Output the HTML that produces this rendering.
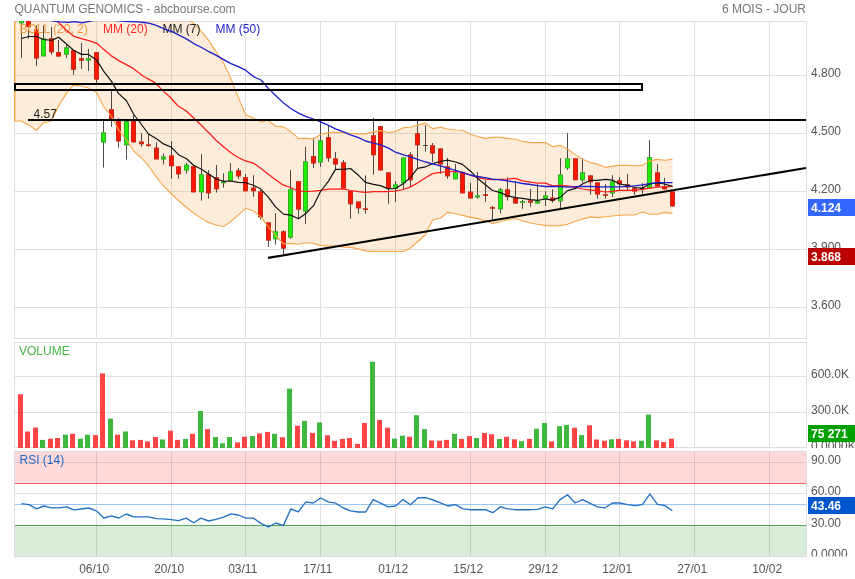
<!DOCTYPE html>
<html><head><meta charset="utf-8"><title>QUANTUM GENOMICS</title>
<style>html,body{margin:0;padding:0;background:#fff;}body{width:855px;height:579px;overflow:hidden;font-family:"Liberation Sans",sans-serif;}svg{display:block;will-change:transform;transform:translateZ(0);}text{font-family:"Liberation Sans",sans-serif;font-size:12px;}</style>
</head><body>
<svg width="855" height="579" viewBox="0 0 855 579">
<defs>
<clipPath id="cm"><rect x="14" y="21" width="793" height="318"/></clipPath>
<clipPath id="cv"><rect x="14" y="342" width="841" height="106"/></clipPath>
<clipPath id="cr"><rect x="14" y="451" width="841" height="105.5"/></clipPath>
</defs>
<rect x="0" y="0" width="855" height="579" fill="#ffffff"/>
<text x="14.5" y="13" fill="#777777" textLength="221" lengthAdjust="spacingAndGlyphs">QUANTUM GENOMICS - abcbourse.com</text>
<text x="806" y="13" fill="#777777" text-anchor="end">6 MOIS - JOUR</text>
<g shape-rendering="crispEdges" stroke="#e0e0e0" stroke-width="1" fill="none">
<line x1="96.5" y1="21" x2="96.5" y2="338"/>
<line x1="96.5" y1="342" x2="96.5" y2="448"/>
<line x1="96.5" y1="451" x2="96.5" y2="556"/>
<line x1="171.5" y1="21" x2="171.5" y2="338"/>
<line x1="171.5" y1="342" x2="171.5" y2="448"/>
<line x1="171.5" y1="451" x2="171.5" y2="556"/>
<line x1="245.5" y1="21" x2="245.5" y2="338"/>
<line x1="245.5" y1="342" x2="245.5" y2="448"/>
<line x1="245.5" y1="451" x2="245.5" y2="556"/>
<line x1="320.5" y1="21" x2="320.5" y2="338"/>
<line x1="320.5" y1="342" x2="320.5" y2="448"/>
<line x1="320.5" y1="451" x2="320.5" y2="556"/>
<line x1="395.5" y1="21" x2="395.5" y2="338"/>
<line x1="395.5" y1="342" x2="395.5" y2="448"/>
<line x1="395.5" y1="451" x2="395.5" y2="556"/>
<line x1="470.5" y1="21" x2="470.5" y2="338"/>
<line x1="470.5" y1="342" x2="470.5" y2="448"/>
<line x1="470.5" y1="451" x2="470.5" y2="556"/>
<line x1="545.5" y1="21" x2="545.5" y2="338"/>
<line x1="545.5" y1="342" x2="545.5" y2="448"/>
<line x1="545.5" y1="451" x2="545.5" y2="556"/>
<line x1="619.5" y1="21" x2="619.5" y2="338"/>
<line x1="619.5" y1="342" x2="619.5" y2="448"/>
<line x1="619.5" y1="451" x2="619.5" y2="556"/>
<line x1="694.5" y1="21" x2="694.5" y2="338"/>
<line x1="694.5" y1="342" x2="694.5" y2="448"/>
<line x1="694.5" y1="451" x2="694.5" y2="556"/>
<line x1="769.5" y1="21" x2="769.5" y2="338"/>
<line x1="769.5" y1="342" x2="769.5" y2="448"/>
<line x1="769.5" y1="451" x2="769.5" y2="556"/>
<line x1="14" y1="75.5" x2="806" y2="75.5"/>
<line x1="14" y1="133.5" x2="806" y2="133.5"/>
<line x1="14" y1="191.5" x2="806" y2="191.5"/>
<line x1="14" y1="249.5" x2="806" y2="249.5"/>
<line x1="14" y1="307.5" x2="806" y2="307.5"/>
<line x1="14" y1="376.5" x2="806" y2="376.5"/>
<line x1="14" y1="412.5" x2="806" y2="412.5"/>
<line x1="14" y1="462.5" x2="806" y2="462.5"/>
<line x1="14" y1="493.5" x2="806" y2="493.5"/>
</g>
<g shape-rendering="crispEdges" stroke="#dddddd" stroke-width="1" fill="none">
<rect x="14.5" y="21.5" width="792" height="317"/>
<rect x="14.5" y="342.5" width="792" height="105"/>
<rect x="14.5" y="451.5" width="792" height="105"/>
</g>
<g clip-path="url(#cm)">
<polygon points="14.5,10.0 185.0,10.0 191.1,21.2 196.3,25.4 201.6,31.7 208.9,40.6 215.3,50.6 222.6,61.2 226.8,69.6 230.5,78.0 232.4,82.4 235.5,90.8 240.8,103.4 245.5,114.5 253.3,118.0 261.1,122.0 267.8,120.2 275.6,126.2 283.3,126.9 290.5,131.3 298.5,138.4 305.5,138.4 313.5,139.0 320.5,134.5 328.5,132.6 335.5,132.3 343.5,132.6 350.5,133.2 358.5,133.9 365.5,133.9 373.5,131.9 380.5,130.6 388.5,132.5 395.5,131.6 403.5,127.7 410.5,127.3 417.5,125.1 425.5,123.1 432.5,128.6 440.5,127.3 447.5,129.0 455.5,130.0 462.5,130.3 470.0,134.1 477.5,136.5 485.0,138.4 492.5,137.4 500.5,137.4 507.5,138.4 515.5,139.3 522.5,141.3 530.5,142.6 537.5,142.6 545.5,142.6 552.5,146.5 560.5,145.4 567.5,149.0 575.5,154.9 582.5,159.2 590.5,162.6 597.5,164.1 605.5,167.4 612.5,166.1 619.5,165.4 627.5,165.4 634.5,165.7 642.5,165.4 649.5,160.9 657.5,159.4 664.5,160.3 672.5,159.2 672.5,213.4 664.5,212.4 657.5,214.3 649.5,214.3 642.5,212.1 634.5,215.0 627.5,215.0 619.5,215.2 612.5,216.0 605.5,216.7 597.5,217.6 590.5,216.9 582.5,219.1 575.5,221.3 567.5,224.3 560.5,225.6 552.5,225.9 545.5,225.6 537.5,224.3 530.5,223.0 522.5,221.0 515.5,218.5 507.5,219.8 500.5,221.7 492.5,223.4 485.4,220.8 477.6,218.4 470.5,217.4 462.7,215.4 455.6,213.7 447.6,212.4 440.7,218.0 432.7,220.0 429.2,226.6 425.7,234.5 417.8,241.5 410.0,248.5 403.8,251.5 389.7,251.5 374.0,251.5 367.0,251.1 360.0,249.4 352.0,247.6 344.1,247.1 336.2,246.2 328.3,245.9 320.4,245.4 312.5,243.2 305.5,242.7 298.5,244.3 290.5,243.5 283.5,243.9 275.5,235.5 268.5,227.1 260.5,216.7 253.5,210.9 245.5,208.3 238.5,214.8 230.5,221.9 223.5,226.5 216.5,225.2 208.5,222.6 200.0,217.4 193.5,213.0 186.5,207.5 178.5,200.5 171.5,194.0 163.5,186.0 156.5,177.4 148.5,165.7 141.5,158.0 133.5,150.8 126.5,139.8 118.5,129.8 111.5,116.5 103.5,106.5 96.5,92.5 88.5,88.0 81.5,86.0 73.5,85.1 66.5,93.1 58.5,106.1 51.5,121.0 43.5,122.7 36.5,130.4 28.5,124.9 21.5,121.0 14.5,121.0" fill="rgba(245,160,60,0.195)" stroke="none"/>
<g>
<rect x="21" y="15.0" width="1" height="42.9" fill="rgba(30,30,30,0.8)"/>
<rect x="19" y="15.0" width="5" height="8.3" fill="#36ac22"/>
<rect x="20" y="16.0" width="3" height="6.3" fill="#1eee08"/>
<rect x="28" y="15.0" width="1" height="23.8" fill="rgba(30,30,30,0.8)"/>
<rect x="26" y="15.0" width="5" height="12.2" fill="#c62a16"/>
<rect x="27" y="16.0" width="3" height="10.2" fill="#ff1600"/>
<rect x="36" y="25.3" width="1" height="40.7" fill="rgba(30,30,30,0.8)"/>
<rect x="34" y="29.4" width="5" height="29.2" fill="#c62a16"/>
<rect x="35" y="30.4" width="3" height="27.2" fill="#ff1600"/>
<rect x="43" y="25.3" width="1" height="31.1" fill="rgba(30,30,30,0.8)"/>
<rect x="41" y="38.2" width="5" height="18.2" fill="#36ac22"/>
<rect x="42" y="39.2" width="3" height="16.2" fill="#1eee08"/>
<rect x="51" y="26.8" width="1" height="27.9" fill="rgba(30,30,30,0.8)"/>
<rect x="49" y="38.2" width="5" height="14.2" fill="#c62a16"/>
<rect x="50" y="39.2" width="3" height="12.2" fill="#ff1600"/>
<rect x="58" y="40.0" width="1" height="16.6" fill="rgba(30,30,30,0.8)"/>
<rect x="56" y="52.1" width="5" height="4.5" fill="#c62a16"/>
<rect x="57" y="53.1" width="3" height="2.5" fill="#ff1600"/>
<rect x="66" y="44.0" width="1" height="13.7" fill="rgba(30,30,30,0.8)"/>
<rect x="64" y="47.3" width="5" height="7.4" fill="#36ac22"/>
<rect x="65" y="48.3" width="3" height="5.4" fill="#1eee08"/>
<rect x="73" y="50.2" width="1" height="24.6" fill="rgba(30,30,30,0.8)"/>
<rect x="71" y="50.2" width="5" height="19.6" fill="#c62a16"/>
<rect x="72" y="51.2" width="3" height="17.6" fill="#ff1600"/>
<rect x="81" y="43.0" width="1" height="25.9" fill="rgba(30,30,30,0.8)"/>
<rect x="79" y="58.2" width="5" height="2.6" fill="#c62a16"/>
<rect x="80" y="59.2" width="3" height="0.6" fill="#ff1600"/>
<rect x="88" y="48.9" width="1" height="22.0" fill="rgba(30,30,30,0.8)"/>
<rect x="86" y="58.2" width="5" height="2.6" fill="#36ac22"/>
<rect x="87" y="59.2" width="3" height="0.6" fill="#1eee08"/>
<rect x="96" y="52.1" width="1" height="31.1" fill="rgba(30,30,30,0.8)"/>
<rect x="94" y="52.1" width="5" height="27.6" fill="#c62a16"/>
<rect x="95" y="53.1" width="3" height="25.6" fill="#ff1600"/>
<rect x="103" y="120.4" width="1" height="47.2" fill="rgba(30,30,30,0.8)"/>
<rect x="101" y="132.3" width="5" height="10.3" fill="#36ac22"/>
<rect x="102" y="133.3" width="3" height="8.3" fill="#1eee08"/>
<rect x="111" y="90.4" width="1" height="36.4" fill="rgba(30,30,30,0.8)"/>
<rect x="109" y="109.2" width="5" height="9.8" fill="#c62a16"/>
<rect x="110" y="110.2" width="3" height="7.8" fill="#ff1600"/>
<rect x="118" y="118.0" width="1" height="29.6" fill="rgba(30,30,30,0.8)"/>
<rect x="116" y="120.0" width="5" height="21.5" fill="#c62a16"/>
<rect x="117" y="121.0" width="3" height="19.5" fill="#ff1600"/>
<rect x="126" y="121.0" width="1" height="38.6" fill="rgba(30,30,30,0.8)"/>
<rect x="124" y="121.0" width="5" height="24.4" fill="#36ac22"/>
<rect x="125" y="122.0" width="3" height="22.4" fill="#1eee08"/>
<rect x="133" y="115.2" width="1" height="27.2" fill="rgba(30,30,30,0.8)"/>
<rect x="131" y="121.0" width="5" height="21.4" fill="#c62a16"/>
<rect x="132" y="122.0" width="3" height="19.4" fill="#ff1600"/>
<rect x="141" y="133.3" width="1" height="13.4" fill="rgba(30,30,30,0.8)"/>
<rect x="139" y="141.5" width="5" height="2.8" fill="#c62a16"/>
<rect x="140" y="142.5" width="3" height="0.8" fill="#ff1600"/>
<rect x="148" y="134.6" width="1" height="12.1" fill="rgba(30,30,30,0.8)"/>
<rect x="146" y="144.3" width="5" height="1.7" fill="#c62a16"/>
<rect x="156" y="142.1" width="1" height="17.4" fill="rgba(30,30,30,0.8)"/>
<rect x="154" y="147.6" width="5" height="11.9" fill="#c62a16"/>
<rect x="155" y="148.6" width="3" height="9.9" fill="#ff1600"/>
<rect x="163" y="153.4" width="1" height="11.0" fill="rgba(30,30,30,0.8)"/>
<rect x="161" y="156.4" width="5" height="3.1" fill="#36ac22"/>
<rect x="162" y="157.4" width="3" height="1.1" fill="#1eee08"/>
<rect x="171" y="141.1" width="1" height="37.6" fill="rgba(30,30,30,0.8)"/>
<rect x="169" y="155.3" width="5" height="11.0" fill="#c62a16"/>
<rect x="170" y="156.3" width="3" height="9.0" fill="#ff1600"/>
<rect x="178" y="166.3" width="1" height="12.4" fill="rgba(30,30,30,0.8)"/>
<rect x="176" y="166.3" width="5" height="8.1" fill="#c62a16"/>
<rect x="177" y="167.3" width="3" height="6.1" fill="#ff1600"/>
<rect x="186" y="162.8" width="1" height="10.8" fill="rgba(30,30,30,0.8)"/>
<rect x="184" y="164.5" width="5" height="6.1" fill="#36ac22"/>
<rect x="185" y="165.5" width="3" height="4.1" fill="#1eee08"/>
<rect x="193" y="166.1" width="1" height="26.3" fill="rgba(30,30,30,0.8)"/>
<rect x="191" y="166.1" width="5" height="26.3" fill="#c62a16"/>
<rect x="192" y="167.1" width="3" height="24.3" fill="#ff1600"/>
<rect x="201" y="154.2" width="1" height="46.5" fill="rgba(30,30,30,0.8)"/>
<rect x="199" y="174.2" width="5" height="18.2" fill="#36ac22"/>
<rect x="200" y="175.2" width="3" height="16.2" fill="#1eee08"/>
<rect x="208" y="170.0" width="1" height="28.7" fill="rgba(30,30,30,0.8)"/>
<rect x="206" y="174.2" width="5" height="19.3" fill="#c62a16"/>
<rect x="207" y="175.2" width="3" height="17.3" fill="#ff1600"/>
<rect x="216" y="165.0" width="1" height="27.6" fill="rgba(30,30,30,0.8)"/>
<rect x="214" y="177.1" width="5" height="12.3" fill="#c62a16"/>
<rect x="215" y="178.1" width="3" height="10.3" fill="#ff1600"/>
<rect x="223" y="173.2" width="1" height="14.5" fill="rgba(30,30,30,0.8)"/>
<rect x="221" y="181.6" width="5" height="1.7" fill="#36ac22"/>
<rect x="230" y="163.1" width="1" height="17.9" fill="rgba(30,30,30,0.8)"/>
<rect x="228" y="171.3" width="5" height="9.7" fill="#36ac22"/>
<rect x="229" y="172.3" width="3" height="7.7" fill="#1eee08"/>
<rect x="238" y="168.0" width="1" height="10.7" fill="rgba(30,30,30,0.8)"/>
<rect x="236" y="170.2" width="5" height="6.3" fill="#c62a16"/>
<rect x="237" y="171.2" width="3" height="4.3" fill="#ff1600"/>
<rect x="245" y="173.9" width="1" height="17.4" fill="rgba(30,30,30,0.8)"/>
<rect x="243" y="177.1" width="5" height="14.2" fill="#c62a16"/>
<rect x="244" y="178.1" width="3" height="12.2" fill="#ff1600"/>
<rect x="253" y="175.2" width="1" height="21.6" fill="rgba(30,30,30,0.8)"/>
<rect x="251" y="187.5" width="5" height="3.8" fill="#c62a16"/>
<rect x="252" y="188.5" width="3" height="1.8" fill="#ff1600"/>
<rect x="260" y="190.0" width="1" height="29.7" fill="rgba(30,30,30,0.8)"/>
<rect x="258" y="191.3" width="5" height="26.1" fill="#c62a16"/>
<rect x="259" y="192.3" width="3" height="24.1" fill="#ff1600"/>
<rect x="268" y="222.3" width="1" height="24.5" fill="rgba(30,30,30,0.8)"/>
<rect x="266" y="222.3" width="5" height="18.4" fill="#c62a16"/>
<rect x="267" y="223.3" width="3" height="16.4" fill="#ff1600"/>
<rect x="275" y="213.1" width="1" height="31.5" fill="rgba(30,30,30,0.8)"/>
<rect x="273" y="231.2" width="5" height="8.2" fill="#36ac22"/>
<rect x="274" y="232.2" width="3" height="6.2" fill="#1eee08"/>
<rect x="283" y="230.3" width="1" height="24.0" fill="rgba(30,30,30,0.8)"/>
<rect x="281" y="231.2" width="5" height="17.5" fill="#c62a16"/>
<rect x="282" y="232.2" width="3" height="15.5" fill="#ff1600"/>
<rect x="290" y="170.1" width="1" height="68.7" fill="rgba(30,30,30,0.8)"/>
<rect x="288" y="189.2" width="5" height="48.5" fill="#36ac22"/>
<rect x="289" y="190.2" width="3" height="46.5" fill="#1eee08"/>
<rect x="298" y="181.1" width="1" height="38.2" fill="rgba(30,30,30,0.8)"/>
<rect x="296" y="181.1" width="5" height="28.5" fill="#c62a16"/>
<rect x="297" y="182.1" width="3" height="26.5" fill="#ff1600"/>
<rect x="305" y="146.8" width="1" height="77.0" fill="rgba(30,30,30,0.8)"/>
<rect x="303" y="161.3" width="5" height="50.2" fill="#36ac22"/>
<rect x="304" y="162.3" width="3" height="48.2" fill="#1eee08"/>
<rect x="313" y="137.7" width="1" height="30.2" fill="rgba(30,30,30,0.8)"/>
<rect x="311" y="156.1" width="5" height="7.5" fill="#c62a16"/>
<rect x="312" y="157.1" width="3" height="5.5" fill="#ff1600"/>
<rect x="320" y="121.0" width="1" height="45.8" fill="rgba(30,30,30,0.8)"/>
<rect x="318" y="140.3" width="5" height="22.3" fill="#36ac22"/>
<rect x="319" y="141.3" width="3" height="20.3" fill="#1eee08"/>
<rect x="328" y="126.1" width="1" height="35.6" fill="rgba(30,30,30,0.8)"/>
<rect x="326" y="137.1" width="5" height="21.3" fill="#c62a16"/>
<rect x="327" y="138.1" width="3" height="19.3" fill="#ff1600"/>
<rect x="335" y="152.0" width="1" height="17.4" fill="rgba(30,30,30,0.8)"/>
<rect x="333" y="158.3" width="5" height="6.3" fill="#c62a16"/>
<rect x="334" y="159.3" width="3" height="4.3" fill="#ff1600"/>
<rect x="343" y="160.0" width="1" height="28.6" fill="rgba(30,30,30,0.8)"/>
<rect x="341" y="162.2" width="5" height="26.4" fill="#c62a16"/>
<rect x="342" y="163.2" width="3" height="24.4" fill="#ff1600"/>
<rect x="350" y="190.8" width="1" height="27.9" fill="rgba(30,30,30,0.8)"/>
<rect x="348" y="190.8" width="5" height="13.6" fill="#c62a16"/>
<rect x="349" y="191.8" width="3" height="11.6" fill="#ff1600"/>
<rect x="358" y="201.4" width="1" height="12.3" fill="rgba(30,30,30,0.8)"/>
<rect x="356" y="201.4" width="5" height="7.1" fill="#c62a16"/>
<rect x="357" y="202.4" width="3" height="5.1" fill="#ff1600"/>
<rect x="365" y="175.3" width="1" height="38.4" fill="rgba(30,30,30,0.8)"/>
<rect x="363" y="208.3" width="5" height="1.7" fill="#c62a16"/>
<rect x="373" y="118.0" width="1" height="56.6" fill="rgba(30,30,30,0.8)"/>
<rect x="371" y="135.2" width="5" height="20.1" fill="#c62a16"/>
<rect x="372" y="136.2" width="3" height="18.1" fill="#ff1600"/>
<rect x="380" y="126.1" width="1" height="44.4" fill="rgba(30,30,30,0.8)"/>
<rect x="378" y="126.1" width="5" height="44.4" fill="#c62a16"/>
<rect x="379" y="127.1" width="3" height="42.4" fill="#ff1600"/>
<rect x="388" y="172.3" width="1" height="31.5" fill="rgba(30,30,30,0.8)"/>
<rect x="386" y="172.3" width="5" height="16.6" fill="#c62a16"/>
<rect x="387" y="173.3" width="3" height="14.6" fill="#ff1600"/>
<rect x="395" y="181.1" width="1" height="20.7" fill="rgba(30,30,30,0.8)"/>
<rect x="393" y="184.3" width="5" height="4.6" fill="#36ac22"/>
<rect x="394" y="185.3" width="3" height="2.6" fill="#1eee08"/>
<rect x="403" y="157.4" width="1" height="31.5" fill="rgba(30,30,30,0.8)"/>
<rect x="401" y="157.4" width="5" height="26.0" fill="#36ac22"/>
<rect x="402" y="158.4" width="3" height="24.0" fill="#1eee08"/>
<rect x="410" y="152.2" width="1" height="34.7" fill="rgba(30,30,30,0.8)"/>
<rect x="408" y="154.4" width="5" height="26.0" fill="#c62a16"/>
<rect x="409" y="155.4" width="3" height="24.0" fill="#ff1600"/>
<rect x="417" y="120.5" width="1" height="48.0" fill="rgba(30,30,30,0.8)"/>
<rect x="415" y="133.2" width="5" height="12.2" fill="#c62a16"/>
<rect x="416" y="134.2" width="3" height="10.2" fill="#ff1600"/>
<rect x="425" y="125.1" width="1" height="26.5" fill="rgba(30,30,30,0.8)"/>
<rect x="423" y="145.0" width="5" height="1.0" fill="rgba(30,30,30,0.8)"/>
<rect x="432" y="143.0" width="1" height="19.0" fill="rgba(30,30,30,0.8)"/>
<rect x="430" y="145.2" width="5" height="8.4" fill="#c62a16"/>
<rect x="431" y="146.2" width="3" height="6.4" fill="#ff1600"/>
<rect x="440" y="148.4" width="1" height="25.3" fill="rgba(30,30,30,0.8)"/>
<rect x="438" y="148.4" width="5" height="16.2" fill="#c62a16"/>
<rect x="439" y="149.4" width="3" height="14.2" fill="#ff1600"/>
<rect x="447" y="158.0" width="1" height="20.8" fill="rgba(30,30,30,0.8)"/>
<rect x="445" y="166.3" width="5" height="10.1" fill="#c62a16"/>
<rect x="446" y="167.3" width="3" height="8.1" fill="#ff1600"/>
<rect x="455" y="164.0" width="1" height="15.4" fill="rgba(30,30,30,0.8)"/>
<rect x="453" y="172.3" width="5" height="7.1" fill="#36ac22"/>
<rect x="454" y="173.3" width="3" height="5.1" fill="#1eee08"/>
<rect x="462" y="171.4" width="1" height="22.0" fill="rgba(30,30,30,0.8)"/>
<rect x="460" y="172.3" width="5" height="21.1" fill="#c62a16"/>
<rect x="461" y="173.3" width="3" height="19.1" fill="#ff1600"/>
<rect x="470" y="183.0" width="1" height="15.6" fill="rgba(30,30,30,0.8)"/>
<rect x="468" y="191.5" width="5" height="7.1" fill="#c62a16"/>
<rect x="469" y="192.5" width="3" height="5.1" fill="#ff1600"/>
<rect x="477" y="172.0" width="1" height="26.6" fill="rgba(30,30,30,0.8)"/>
<rect x="475" y="195.3" width="5" height="2.2" fill="#36ac22"/>
<rect x="485" y="180.2" width="1" height="21.5" fill="rgba(30,30,30,0.8)"/>
<rect x="483" y="194.2" width="5" height="1.7" fill="#c62a16"/>
<rect x="492" y="205.8" width="1" height="15.2" fill="rgba(30,30,30,0.8)"/>
<rect x="490" y="207.1" width="5" height="1.7" fill="#c62a16"/>
<rect x="500" y="188.0" width="1" height="25.5" fill="rgba(30,30,30,0.8)"/>
<rect x="498" y="189.3" width="5" height="20.1" fill="#36ac22"/>
<rect x="499" y="190.3" width="3" height="18.1" fill="#1eee08"/>
<rect x="507" y="177.3" width="1" height="23.3" fill="rgba(30,30,30,0.8)"/>
<rect x="505" y="189.3" width="5" height="7.8" fill="#c62a16"/>
<rect x="506" y="190.3" width="3" height="5.8" fill="#ff1600"/>
<rect x="515" y="180.9" width="1" height="22.7" fill="rgba(30,30,30,0.8)"/>
<rect x="513" y="197.7" width="5" height="5.9" fill="#c62a16"/>
<rect x="514" y="198.7" width="3" height="3.9" fill="#ff1600"/>
<rect x="522" y="199.7" width="1" height="9.1" fill="rgba(30,30,30,0.8)"/>
<rect x="520" y="201.2" width="5" height="1.7" fill="#36ac22"/>
<rect x="530" y="188.9" width="1" height="17.9" fill="rgba(30,30,30,0.8)"/>
<rect x="528" y="200.3" width="5" height="2.4" fill="#c62a16"/>
<rect x="537" y="184.1" width="1" height="19.5" fill="rgba(30,30,30,0.8)"/>
<rect x="535" y="201.0" width="5" height="2.6" fill="#36ac22"/>
<rect x="536" y="202.0" width="3" height="0.6" fill="#1eee08"/>
<rect x="545" y="191.3" width="1" height="14.5" fill="rgba(30,30,30,0.8)"/>
<rect x="543" y="195.4" width="5" height="3.6" fill="#36ac22"/>
<rect x="544" y="196.4" width="3" height="1.6" fill="#1eee08"/>
<rect x="552" y="189.3" width="1" height="13.4" fill="rgba(30,30,30,0.8)"/>
<rect x="550" y="197.5" width="5" height="3.5" fill="#c62a16"/>
<rect x="551" y="198.5" width="3" height="1.5" fill="#ff1600"/>
<rect x="560" y="158.2" width="1" height="49.6" fill="rgba(30,30,30,0.8)"/>
<rect x="558" y="174.4" width="5" height="27.0" fill="#36ac22"/>
<rect x="559" y="175.4" width="3" height="25.0" fill="#1eee08"/>
<rect x="567" y="133.2" width="1" height="36.7" fill="rgba(30,30,30,0.8)"/>
<rect x="565" y="158.3" width="5" height="10.1" fill="#36ac22"/>
<rect x="566" y="159.3" width="3" height="8.1" fill="#1eee08"/>
<rect x="575" y="158.3" width="1" height="22.0" fill="rgba(30,30,30,0.8)"/>
<rect x="573" y="158.3" width="5" height="22.0" fill="#c62a16"/>
<rect x="574" y="159.3" width="3" height="20.0" fill="#ff1600"/>
<rect x="582" y="158.1" width="1" height="24.7" fill="rgba(30,30,30,0.8)"/>
<rect x="580" y="172.2" width="5" height="8.1" fill="#36ac22"/>
<rect x="581" y="173.2" width="3" height="6.1" fill="#1eee08"/>
<rect x="590" y="175.3" width="1" height="19.3" fill="rgba(30,30,30,0.8)"/>
<rect x="588" y="175.3" width="5" height="7.0" fill="#c62a16"/>
<rect x="589" y="176.3" width="3" height="5.0" fill="#ff1600"/>
<rect x="597" y="182.3" width="1" height="16.4" fill="rgba(30,30,30,0.8)"/>
<rect x="595" y="182.3" width="5" height="12.3" fill="#c62a16"/>
<rect x="596" y="183.3" width="3" height="10.3" fill="#ff1600"/>
<rect x="605" y="184.2" width="1" height="14.5" fill="rgba(30,30,30,0.8)"/>
<rect x="603" y="194.2" width="5" height="1.7" fill="#c62a16"/>
<rect x="612" y="175.2" width="1" height="21.7" fill="rgba(30,30,30,0.8)"/>
<rect x="610" y="181.4" width="5" height="12.1" fill="#36ac22"/>
<rect x="611" y="182.4" width="3" height="10.1" fill="#1eee08"/>
<rect x="619" y="177.1" width="1" height="13.3" fill="rgba(30,30,30,0.8)"/>
<rect x="617" y="180.3" width="5" height="3.9" fill="#c62a16"/>
<rect x="618" y="181.3" width="3" height="1.9" fill="#ff1600"/>
<rect x="627" y="173.9" width="1" height="16.2" fill="rgba(30,30,30,0.8)"/>
<rect x="625" y="184.2" width="5" height="3.3" fill="#c62a16"/>
<rect x="626" y="185.2" width="3" height="1.3" fill="#ff1600"/>
<rect x="634" y="188.1" width="1" height="6.7" fill="rgba(30,30,30,0.8)"/>
<rect x="632" y="188.1" width="5" height="3.5" fill="#c62a16"/>
<rect x="633" y="189.1" width="3" height="1.5" fill="#ff1600"/>
<rect x="642" y="183.2" width="1" height="10.7" fill="rgba(30,30,30,0.8)"/>
<rect x="640" y="188.0" width="5" height="1.0" fill="rgba(30,30,30,0.8)"/>
<rect x="649" y="140.2" width="1" height="48.3" fill="rgba(30,30,30,0.8)"/>
<rect x="647" y="157.0" width="5" height="31.5" fill="#36ac22"/>
<rect x="648" y="158.0" width="3" height="29.5" fill="#1eee08"/>
<rect x="657" y="164.1" width="1" height="22.5" fill="rgba(30,30,30,0.8)"/>
<rect x="655" y="172.3" width="5" height="14.3" fill="#c62a16"/>
<rect x="656" y="173.3" width="3" height="12.3" fill="#ff1600"/>
<rect x="664" y="178.0" width="1" height="11.4" fill="rgba(30,30,30,0.8)"/>
<rect x="662" y="186.2" width="5" height="3.2" fill="#c62a16"/>
<rect x="663" y="187.2" width="3" height="1.2" fill="#ff1600"/>
<rect x="672" y="191.3" width="1" height="15.2" fill="rgba(30,30,30,0.8)"/>
<rect x="670" y="191.3" width="5" height="15.2" fill="#c62a16"/>
<rect x="671" y="192.3" width="3" height="13.2" fill="#ff1600"/>
</g>
<polyline points="672.5,213.4 664.5,212.4 657.5,214.3 649.5,214.3 642.5,212.1 634.5,215.0 627.5,215.0 619.5,215.2 612.5,216.0 605.5,216.7 597.5,217.6 590.5,216.9 582.5,219.1 575.5,221.3 567.5,224.3 560.5,225.6 552.5,225.9 545.5,225.6 537.5,224.3 530.5,223.0 522.5,221.0 515.5,218.5 507.5,219.8 500.5,221.7 492.5,223.4 485.4,220.8 477.6,218.4 470.5,217.4 462.7,215.4 455.6,213.7 447.6,212.4 440.7,218.0 432.7,220.0 429.2,226.6 425.7,234.5 417.8,241.5 410.0,248.5 403.8,251.5 389.7,251.5 374.0,251.5 367.0,251.1 360.0,249.4 352.0,247.6 344.1,247.1 336.2,246.2 328.3,245.9 320.4,245.4 312.5,243.2 305.5,242.7 298.5,244.3 290.5,243.5 283.5,243.9 275.5,235.5 268.5,227.1 260.5,216.7 253.5,210.9 245.5,208.3 238.5,214.8 230.5,221.9 223.5,226.5 216.5,225.2 208.5,222.6 200.0,217.4 193.5,213.0 186.5,207.5 178.5,200.5 171.5,194.0 163.5,186.0 156.5,177.4 148.5,165.7 141.5,158.0 133.5,150.8 126.5,139.8 118.5,129.8 111.5,116.5 103.5,106.5 96.5,92.5 88.5,88.0 81.5,86.0 73.5,85.1 66.5,93.1 58.5,106.1 51.5,121.0 43.5,122.7 36.5,130.4 28.5,124.9 21.5,121.0 14.5,121.0 14.5,10.0 185.0,10.0 191.1,21.2 196.3,25.4 201.6,31.7 208.9,40.6 215.3,50.6 222.6,61.2 226.8,69.6 230.5,78.0 232.4,82.4 235.5,90.8 240.8,103.4 245.5,114.5 253.3,118.0 261.1,122.0 267.8,120.2 275.6,126.2 283.3,126.9 290.5,131.3 298.5,138.4 305.5,138.4 313.5,139.0 320.5,134.5 328.5,132.6 335.5,132.3 343.5,132.6 350.5,133.2 358.5,133.9 365.5,133.9 373.5,131.9 380.5,130.6 388.5,132.5 395.5,131.6 403.5,127.7 410.5,127.3 417.5,125.1 425.5,123.1 432.5,128.6 440.5,127.3 447.5,129.0 455.5,130.0 462.5,130.3 470.0,134.1 477.5,136.5 485.0,138.4 492.5,137.4 500.5,137.4 507.5,138.4 515.5,139.3 522.5,141.3 530.5,142.6 537.5,142.6 545.5,142.6 552.5,146.5 560.5,145.4 567.5,149.0 575.5,154.9 582.5,159.2 590.5,162.6 597.5,164.1 605.5,167.4 612.5,166.1 619.5,165.4 627.5,165.4 634.5,165.7 642.5,165.4 649.5,160.9 657.5,159.4 664.5,160.3 672.5,159.2" fill="none" stroke="#f7a64a" stroke-width="1.1" stroke-linejoin="round"/>
<rect x="14" y="21" width="2" height="100" fill="rgba(247,160,60,0.35)"/>
<text x="19.5" y="33" fill="#f39c3c">BOLL (20, 2)</text>
<text x="103" y="33" fill="#ff2a2a">MM (20)</text>
<polyline points="50.0,14.0 58.0,21.9 65.7,29.7 73.5,36.1 81.2,38.7 89.0,40.7 96.8,43.3 103.3,49.1 111.0,55.6 120.0,61.4 132.5,67.9 143.3,76.2 155.0,82.6 162.5,90.4 170.0,97.0 178.0,106.0 186.0,110.8 199.0,123.0 211.0,135.0 216.5,140.8 223.5,146.7 230.5,152.5 238.5,157.7 245.4,160.9 253.4,163.2 260.4,168.0 268.0,173.9 275.5,179.7 283.0,184.9 290.5,187.5 298.5,191.2 305.5,191.5 313.5,191.2 320.5,190.4 328.5,189.2 335.5,189.2 343.5,188.9 350.5,190.5 358.5,191.7 365.5,192.4 373.5,191.7 380.5,191.5 388.5,191.5 395.5,191.2 403.5,189.5 410.5,186.9 417.5,183.0 425.5,177.7 432.5,173.6 440.5,172.3 447.5,171.5 455.5,171.5 462.5,172.3 470.5,175.2 477.5,177.3 485.4,179.2 492.5,179.7 500.5,179.4 507.5,179.0 515.5,178.3 522.5,180.9 530.5,182.2 537.5,183.1 545.5,183.2 552.5,185.8 560.5,185.4 567.5,185.8 575.5,187.4 582.5,189.0 590.5,190.1 597.5,190.7 605.5,192.0 612.5,191.3 619.5,190.4 627.5,190.4 634.5,190.4 642.5,189.4 649.5,188.1 657.5,187.1 664.5,186.8 672.5,186.4" fill="none" stroke="#ff1a1a" stroke-width="1.25" stroke-linejoin="round"/>
<text x="162.5" y="33" fill="#222222">MM (7)</text>
<polyline points="21.5,38.5 28.5,36.5 36.5,36.5 43.5,39.5 51.5,40.4 58.5,37.2 66.5,44.0 73.5,50.2 81.5,54.4 88.5,54.4 96.5,59.9 104.0,71.7 111.5,81.4 118.5,93.4 126.5,100.8 133.5,114.0 141.5,124.5 148.5,134.0 156.5,138.8 163.5,143.9 171.5,147.3 178.5,154.7 186.5,158.8 193.5,165.2 201.5,169.3 208.5,173.9 216.5,179.0 223.5,181.4 230.5,181.0 238.5,182.3 245.5,182.7 253.5,185.3 260.5,188.8 268.5,197.3 275.5,206.9 283.5,214.1 290.5,215.1 298.5,218.8 305.5,213.8 313.5,205.7 320.5,191.5 328.5,181.1 335.5,169.4 343.5,169.4 350.5,168.5 358.5,175.3 365.5,182.4 373.5,184.3 380.5,185.6 388.5,188.9 395.5,188.5 403.5,183.4 410.5,177.4 417.5,168.4 425.5,166.8 432.5,163.7 440.5,161.5 447.5,160.2 455.5,162.0 462.5,164.4 470.5,171.2 477.5,178.3 485.4,184.8 492.5,190.5 500.5,192.6 507.5,195.8 515.5,197.7 522.5,198.4 530.5,199.7 537.5,200.3 545.5,199.0 552.5,200.1 560.5,197.1 567.5,190.6 575.5,188.4 582.5,184.0 590.5,180.3 597.5,180.3 605.5,179.4 612.5,180.1 619.5,184.0 627.5,185.3 634.5,187.5 642.5,188.1 649.5,184.0 657.5,182.9 664.5,184.0 672.5,186.4" fill="none" stroke="#111111" stroke-width="1.2" stroke-linejoin="round"/>
<text x="215.5" y="33" fill="#2424cc">MM (50)</text>
<polyline points="14.0,10.0 45.0,19.5 52.0,20.8 60.0,21.9 68.0,22.4 75.0,21.6 82.0,22.9 88.0,21.7 93.0,20.7 105.0,19.8 117.0,20.7 125.0,21.3 138.0,21.9 144.0,22.5 150.0,23.3 157.4,25.9 164.7,29.1 172.1,31.7 179.5,35.4 186.8,39.1 194.2,43.8 201.6,47.5 208.9,51.7 216.3,55.4 223.7,59.6 231.0,63.6 238.4,66.7 245.9,70.4 253.4,76.6 260.9,80.0 268.3,88.4 275.6,95.5 282.9,102.4 290.4,108.3 298.5,113.1 305.5,116.4 313.5,119.0 320.5,121.9 328.5,125.4 335.5,128.9 343.5,131.9 350.5,134.9 358.5,137.7 365.5,141.0 373.5,143.2 380.5,144.9 385.0,146.7 388.5,148.1 395.5,152.2 403.5,154.9 410.5,156.8 417.5,159.4 425.5,162.0 432.5,163.9 440.5,165.9 447.5,168.2 455.5,170.4 462.5,172.6 470.0,175.0 477.5,176.5 485.0,177.6 492.5,179.2 500.5,179.9 507.5,180.9 515.5,182.2 522.5,183.5 530.5,184.5 537.5,185.7 545.5,186.5 552.5,186.5 560.5,186.7 567.5,187.1 575.5,186.7 582.5,186.5 590.5,186.4 597.5,186.8 605.5,186.8 612.5,186.8 619.5,186.8 627.5,186.4 634.5,185.9 642.5,184.9 649.5,183.6 657.5,182.7 664.5,182.7 672.5,182.7" fill="none" stroke="#1c1ccc" stroke-width="1.3" stroke-linejoin="round"/>
<g shape-rendering="crispEdges" stroke="#000000" stroke-width="2" fill="none">
<rect x="15" y="84" width="627" height="6"/>
<line x1="28" y1="120" x2="806" y2="120"/>
</g>
<line x1="268" y1="257.9" x2="806" y2="168" stroke="#000000" stroke-width="2.1"/>
<text x="33.5" y="117.5" fill="#222222">4.57</text>
</g>
<text x="19" y="355" fill="#44b944">VOLUME</text>
<g>
<rect x="18" y="394.3" width="5" height="53.7" fill="#ff4444"/>
<rect x="25" y="431.5" width="5" height="16.5" fill="#ff4444"/>
<rect x="33" y="427.5" width="5" height="20.5" fill="#ff4444"/>
<rect x="40" y="439.9" width="5" height="8.1" fill="#3fb83f"/>
<rect x="48" y="438.7" width="5" height="9.3" fill="#ff4444"/>
<rect x="55" y="438.0" width="5" height="10.0" fill="#ff4444"/>
<rect x="63" y="434.7" width="5" height="13.3" fill="#3fb83f"/>
<rect x="70" y="433.8" width="5" height="14.2" fill="#ff4444"/>
<rect x="78" y="438.7" width="5" height="9.3" fill="#3fb83f"/>
<rect x="85" y="434.7" width="5" height="13.3" fill="#3fb83f"/>
<rect x="93" y="435.1" width="5" height="12.9" fill="#ff4444"/>
<rect x="100" y="373.4" width="5" height="74.6" fill="#ff4444"/>
<rect x="108" y="418.6" width="5" height="29.4" fill="#3fb83f"/>
<rect x="115" y="434.7" width="5" height="13.3" fill="#ff4444"/>
<rect x="123" y="431.5" width="5" height="16.5" fill="#3fb83f"/>
<rect x="130" y="440.3" width="5" height="7.7" fill="#ff4444"/>
<rect x="138" y="439.9" width="5" height="8.1" fill="#ff4444"/>
<rect x="145" y="441.4" width="5" height="6.6" fill="#ff4444"/>
<rect x="153" y="437.0" width="5" height="11.0" fill="#ff4444"/>
<rect x="160" y="439.5" width="5" height="8.5" fill="#3fb83f"/>
<rect x="168" y="430.6" width="5" height="17.4" fill="#ff4444"/>
<rect x="175" y="439.9" width="5" height="8.1" fill="#ff4444"/>
<rect x="183" y="438.9" width="5" height="9.1" fill="#3fb83f"/>
<rect x="190" y="433.8" width="5" height="14.2" fill="#ff4444"/>
<rect x="198" y="411.0" width="5" height="37.0" fill="#3fb83f"/>
<rect x="205" y="429.1" width="5" height="18.9" fill="#ff4444"/>
<rect x="213" y="437.0" width="5" height="11.0" fill="#3fb83f"/>
<rect x="220" y="443.3" width="5" height="4.7" fill="#3fb83f"/>
<rect x="227" y="437.0" width="5" height="11.0" fill="#3fb83f"/>
<rect x="235" y="442.4" width="5" height="5.6" fill="#ff4444"/>
<rect x="242" y="436.7" width="5" height="11.3" fill="#ff4444"/>
<rect x="250" y="436.1" width="5" height="11.9" fill="#3fb83f"/>
<rect x="257" y="433.4" width="5" height="14.6" fill="#ff4444"/>
<rect x="265" y="431.9" width="5" height="16.1" fill="#ff4444"/>
<rect x="272" y="433.8" width="5" height="14.2" fill="#3fb83f"/>
<rect x="280" y="437.2" width="5" height="10.8" fill="#ff4444"/>
<rect x="287" y="388.6" width="5" height="59.4" fill="#3fb83f"/>
<rect x="295" y="425.8" width="5" height="22.2" fill="#ff4444"/>
<rect x="302" y="420.9" width="5" height="27.1" fill="#3fb83f"/>
<rect x="310" y="432.9" width="5" height="15.1" fill="#ff4444"/>
<rect x="317" y="422.4" width="5" height="25.6" fill="#3fb83f"/>
<rect x="325" y="435.3" width="5" height="12.7" fill="#ff4444"/>
<rect x="332" y="440.8" width="5" height="7.2" fill="#ff4444"/>
<rect x="340" y="438.9" width="5" height="9.1" fill="#ff4444"/>
<rect x="347" y="438.0" width="5" height="10.0" fill="#ff4444"/>
<rect x="355" y="443.9" width="5" height="4.1" fill="#ff4444"/>
<rect x="362" y="423.0" width="5" height="25.0" fill="#ff4444"/>
<rect x="370" y="361.7" width="5" height="86.3" fill="#3fb83f"/>
<rect x="377" y="419.9" width="5" height="28.1" fill="#ff4444"/>
<rect x="385" y="427.7" width="5" height="20.3" fill="#ff4444"/>
<rect x="392" y="438.6" width="5" height="9.4" fill="#3fb83f"/>
<rect x="400" y="435.7" width="5" height="12.3" fill="#3fb83f"/>
<rect x="407" y="436.7" width="5" height="11.3" fill="#ff4444"/>
<rect x="414" y="415.2" width="5" height="32.8" fill="#3fb83f"/>
<rect x="422" y="429.1" width="5" height="18.9" fill="#3fb83f"/>
<rect x="429" y="440.5" width="5" height="7.5" fill="#ff4444"/>
<rect x="437" y="440.8" width="5" height="7.2" fill="#ff4444"/>
<rect x="444" y="439.9" width="5" height="8.1" fill="#ff4444"/>
<rect x="452" y="433.8" width="5" height="14.2" fill="#3fb83f"/>
<rect x="459" y="438.9" width="5" height="9.1" fill="#ff4444"/>
<rect x="467" y="436.1" width="5" height="11.9" fill="#ff4444"/>
<rect x="474" y="438.0" width="5" height="10.0" fill="#3fb83f"/>
<rect x="482" y="432.9" width="5" height="15.1" fill="#ff4444"/>
<rect x="489" y="434.2" width="5" height="13.8" fill="#ff4444"/>
<rect x="497" y="438.9" width="5" height="9.1" fill="#3fb83f"/>
<rect x="504" y="436.8" width="5" height="11.2" fill="#ff4444"/>
<rect x="512" y="439.3" width="5" height="8.7" fill="#ff4444"/>
<rect x="519" y="441.2" width="5" height="6.8" fill="#3fb83f"/>
<rect x="527" y="438.9" width="5" height="9.1" fill="#ff4444"/>
<rect x="534" y="428.7" width="5" height="19.3" fill="#3fb83f"/>
<rect x="542" y="423.0" width="5" height="25.0" fill="#3fb83f"/>
<rect x="549" y="441.4" width="5" height="6.6" fill="#ff4444"/>
<rect x="557" y="426.2" width="5" height="21.8" fill="#3fb83f"/>
<rect x="564" y="424.9" width="5" height="23.1" fill="#3fb83f"/>
<rect x="572" y="427.7" width="5" height="20.3" fill="#ff4444"/>
<rect x="579" y="435.1" width="5" height="12.9" fill="#3fb83f"/>
<rect x="587" y="425.3" width="5" height="22.7" fill="#ff4444"/>
<rect x="594" y="439.5" width="5" height="8.5" fill="#ff4444"/>
<rect x="602" y="440.7" width="5" height="7.3" fill="#ff4444"/>
<rect x="609" y="439.3" width="5" height="8.7" fill="#3fb83f"/>
<rect x="616" y="438.9" width="5" height="9.1" fill="#ff4444"/>
<rect x="624" y="440.3" width="5" height="7.7" fill="#ff4444"/>
<rect x="631" y="441.4" width="5" height="6.6" fill="#ff4444"/>
<rect x="639" y="440.7" width="5" height="7.3" fill="#3fb83f"/>
<rect x="646" y="414.6" width="5" height="33.4" fill="#3fb83f"/>
<rect x="654" y="440.3" width="5" height="7.7" fill="#ff4444"/>
<rect x="661" y="442.0" width="5" height="6.0" fill="#ff4444"/>
<rect x="669" y="438.7" width="5" height="9.3" fill="#ff4444"/>
</g>
<rect x="15" y="452" width="791" height="31" fill="rgba(255,0,0,0.15)"/>
<rect x="15" y="525.5" width="791" height="30.5" fill="rgba(0,128,0,0.15)"/>
<g shape-rendering="crispEdges" stroke-width="1" fill="none">
<line x1="15" y1="483.5" x2="806" y2="483.5" stroke="#ff5a5a"/>
<line x1="15" y1="504.5" x2="806" y2="504.5" stroke="#9cc6f2"/>
<line x1="15" y1="525.5" x2="806" y2="525.5" stroke="#58a658"/>
</g>
<text x="19.5" y="464" fill="#1c66c6">RSI (14)</text>
<polyline points="21.5,503.7 29.0,504.7 36.5,508.8 43.9,506.0 51.4,507.8 58.9,507.8 66.4,506.9 73.9,509.9 81.3,509.0 88.8,508.0 96.3,510.8 103.8,518.0 111.3,515.9 118.8,518.0 126.2,514.0 133.7,516.8 141.2,516.8 148.7,516.8 156.2,518.7 163.6,518.9 171.1,519.6 178.6,520.6 186.1,518.1 193.6,522.8 201.0,518.1 208.5,521.0 216.0,519.3 223.5,517.2 231.0,513.8 238.4,515.0 245.9,518.1 253.4,518.1 260.9,523.4 268.4,526.9 275.9,523.0 283.3,525.6 290.8,509.0 298.3,511.8 305.8,501.9 313.3,503.0 320.7,498.0 328.2,501.9 335.7,503.2 343.2,508.0 350.7,510.8 358.1,512.0 365.6,512.0 373.1,499.6 380.6,503.2 388.1,506.9 395.6,506.0 403.0,499.6 410.5,504.7 418.0,497.7 425.5,497.7 433.0,500.0 440.4,502.8 447.9,506.0 455.4,504.7 462.9,508.8 470.4,509.7 477.8,509.7 485.3,509.7 492.8,512.7 500.3,506.9 507.8,508.8 515.2,509.7 522.7,509.7 530.2,509.7 537.7,509.3 545.2,506.9 552.7,508.8 560.1,499.6 567.6,494.7 575.1,503.0 582.6,499.6 590.1,503.4 597.5,506.9 605.0,507.8 612.5,503.0 620.0,503.0 627.5,504.7 634.9,505.6 642.4,504.7 649.9,493.8 657.4,504.3 664.9,505.6 672.3,510.7" fill="none" stroke="#2271c4" stroke-width="1.35" stroke-linejoin="round"/>
<g fill="#555555">
<text x="811" y="76.5">4.800</text>
<text x="811" y="134.5">4.500</text>
<text x="811" y="192.5">4.200</text>
<text x="811" y="250.5">3.900</text>
<text x="811" y="308.5">3.600</text>
<g clip-path="url(#cv)">
<text x="811" y="377.5">600.0K</text>
<text x="811" y="413.5">300.0K</text>
<text x="811" y="449.5">0.0000K</text>
</g>
<g clip-path="url(#cr)">
<text x="811" y="463.5">90.00</text>
<text x="811" y="494.5">60.00</text>
<text x="811" y="526.5">30.00</text>
<text x="811" y="557.5">0.0000</text>
</g>
<text x="79.2" y="573">06/10</text>
<text x="154.2" y="573">20/10</text>
<text x="228.2" y="573">03/11</text>
<text x="303.2" y="573">17/11</text>
<text x="378.2" y="573">01/12</text>
<text x="453.2" y="573">15/12</text>
<text x="528.2" y="573">29/12</text>
<text x="602.2" y="573">12/01</text>
<text x="677.2" y="573">27/01</text>
<text x="752.2" y="573">10/02</text>
</g>
<rect x="808" y="199" width="47" height="17" fill="#3366ff" shape-rendering="crispEdges"/>
<text x="811" y="211.5" fill="#ffffff" font-weight="bold">4.124</text>
<rect x="808" y="248" width="47" height="17" fill="#bb0000" shape-rendering="crispEdges"/>
<text x="811" y="260.5" fill="#ffffff" font-weight="bold">3.868</text>
<rect x="808" y="425" width="47" height="17" fill="#00a000" shape-rendering="crispEdges"/>
<text x="811" y="437.5" fill="#ffffff" font-weight="bold">75 271</text>
<rect x="808" y="497" width="47" height="17" fill="#0055cc" shape-rendering="crispEdges"/>
<text x="811" y="509.5" fill="#ffffff" font-weight="bold">43.46</text>
</svg>
</body></html>
